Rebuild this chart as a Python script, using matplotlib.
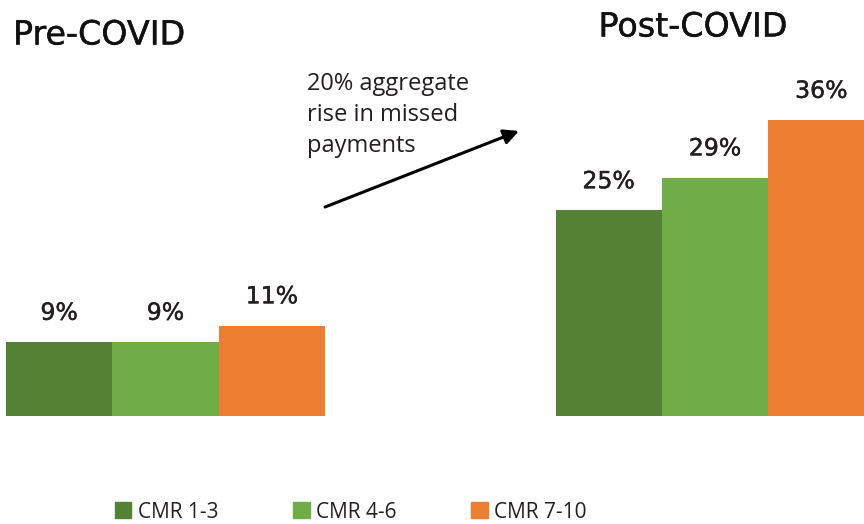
import matplotlib.pyplot as plt
import matplotlib.patheffects as pe
from matplotlib.patches import Patch

groups = ["Pre-COVID", "Post-COVID"]
series = ["CMR 1-3", "CMR 4-6", "CMR 7-10"]
pre_values = [9, 9, 11]
post_values = [25, 29, 36]
colors = ["#548235", "#70AD47", "#ED7D31"]
note = "20% aggregate\nrise in missed\npayments"

fig = plt.figure(figsize=(8.64, 5.24), dpi=100)
ax = fig.add_axes([0, 0, 1, 1])
ax.set_xlim(-0.556, 7.572)
ax.set_ylim(-13.14, 50.6)
ax.axis("off")

pre_x = [0, 1, 2]
post_x = [5.17, 6.17, 7.17]

# thicken the strokes a touch, the original font is a medium weight
heavy = [pe.withStroke(linewidth=0.3, foreground="#231F20")]

for xs, vals in [(pre_x, pre_values), (post_x, post_values)]:
    bars = ax.bar(xs, vals, width=1.0, color=colors, linewidth=0)
    for b, v in zip(bars, vals):
        ax.annotate(f"{v}%", (b.get_x() + b.get_width() / 2, v),
                    xytext=(0, 16), textcoords="offset points",
                    ha="center", va="baseline", fontsize=17,
                    family="DejaVu Sans", color="#231F20", path_effects=heavy)

# group titles
fig.text(13 / 864, 1 - 35 / 524, groups[0], fontsize=24, family="DejaVu Sans",
         ha="left", va="center", color="#111111", path_effects=heavy)
fig.text(693 / 864, 1 - 27 / 524, groups[1], fontsize=24, family="DejaVu Sans",
         ha="center", va="center", color="#111111", path_effects=heavy)

# note and arrow
fig.text(307 / 864, 1 - 72 / 524, note, fontsize=17, family="Open Sans",
         ha="left", va="top", linespacing=1.4, color="#231F20")
ax.annotate("", xy=(4.326, 34.67), xytext=(2.502, 25.42),
            arrowprops=dict(arrowstyle="-|>,head_length=0.9,head_width=0.45",
                            color="black", lw=2.2, shrinkA=0, shrinkB=0))

handles = [Patch(color=c, label=s) for c, s in zip(colors, series)]
fig.legend(handles=handles, loc="center", bbox_to_anchor=(0.406, 1 - 512 / 524),
           ncol=3, frameon=False,
           prop={"family": "Open Sans", "size": 15},
           handlelength=0.8, handleheight=0.8, handletextpad=0.3,
           columnspacing=3.6, labelcolor="#231F20")

fig.savefig("out.png", dpi=100)
